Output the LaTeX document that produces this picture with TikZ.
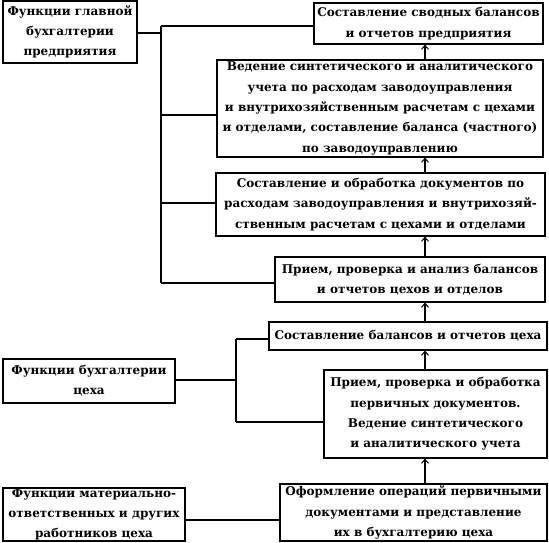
\documentclass[tikz,border=0pt]{standalone}
\usepackage{fontspec}
\setmainfont{DejaVu Serif}
\usetikzlibrary{arrows.meta}
\begin{document}
\begin{tikzpicture}[x=1pt,y=-1pt,
  box/.style={draw, line width=1.2pt, inner sep=0pt, align=center,
    font=\bfseries\fontsize{12}{20.3}\selectfont},
  link/.style={line width=1.2pt},
  up/.style={line width=1.2pt, -{Straight Barb[length=4pt,width=7pt,line width=1pt]}}]
\useasboundingbox (0,0) rectangle (549,542);
\node[box, minimum width=229pt, minimum height=41pt] (T) at (428.5,23.5)
  {Составление сводных балансов\\и отчетов предприятия};
\node[box, minimum width=326pt, minimum height=97pt] (B2) at (380,108.5)
  {Ведение синтетического и аналитического\\учета по расходам заводоуправления\\и внутрихозяйственным расчетам с цехами\\и отделами, составление баланса (частного)\\по заводоуправлению};
\node[box, minimum width=329pt, minimum height=63pt] (B3) at (380.5,204.5)
  {Составление и обработка документов по\\расходам заводоуправления и внутрихозяй-\\ственным расчетам с цехами и отделами};
\node[box, minimum width=270pt, minimum height=45pt] (B4) at (410,279.5)
  {Прием, проверка и анализ балансов\\и отчетов цехов и отделов};
\node[box, minimum width=278pt, minimum height=28pt] (B5) at (408,336)
  {Составление балансов и отчетов цеха};
\node[box, minimum width=223pt, minimum height=88pt] (B6) at (435.5,414)
  {Прием, проверка и обработка\\первичных документов.\\Ведение синтетического\\и аналитического учета};
\node[box, minimum width=267pt, minimum height=57pt] (B7) at (413.5,512.5)
  {Оформление операций первичными\\документами и представление\\их в бухгалтерию цеха};
\node[box, minimum width=134pt, minimum height=62pt] (L1) at (70,32)
  {Функции главной\\бухгалтерии\\предприятия};
\node[box, minimum width=172pt, minimum height=44pt] (L2) at (89,381)
  {Функции бухгалтерии\\цеха};
\node[box, minimum width=182pt, minimum height=53pt] (L3) at (94,514.5)
  {Функции материально-\\ответственных и других\\работников цеха};
% main accounting bus
\coordinate (m1) at (161,33);
\coordinate (mT) at (161,26);
\coordinate (m2) at (161,115);
\coordinate (m3) at (161,203);
\coordinate (m4) at (161,283);
\draw[link] (L1.east |- m1) -- (m1);
\draw[link] (mT) -- (m4);
\draw[link] (mT) -- (T.west |- mT);
\draw[link] (m2) -- (B2.west |- m2);
\draw[link] (m3) -- (B3.west |- m3);
\draw[link] (m4) -- (B4.west |- m4);
% shop accounting bus
\coordinate (s0) at (236,380);
\coordinate (s5) at (236,339);
\coordinate (s6) at (236,422);
\draw[link] (L2.east |- s0) -- (s0);
\draw[link] (s5) -- (s6);
\draw[link] (s5) -- (B5.west |- s5);
\draw[link] (s6) -- (B6.west |- s6);
% workers
\coordinate (w0) at (0,520);
\draw[link] (L3.east |- w0) -- (B7.west |- w0);
% upward arrows
\coordinate (ax) at (425,0);
\draw[up] (B7.north -| ax) -- (B6.south -| ax);
\draw[up] (B6.north -| ax) -- (B5.south -| ax);
\draw[up] (B5.north -| ax) -- (B4.south -| ax);
\draw[up] (B4.north -| ax) -- (B3.south -| ax);
\draw[up] (B3.north -| ax) -- (B2.south -| ax);
\draw[up] (B2.north -| ax) -- (T.south -| ax);
\end{tikzpicture}
\end{document}
